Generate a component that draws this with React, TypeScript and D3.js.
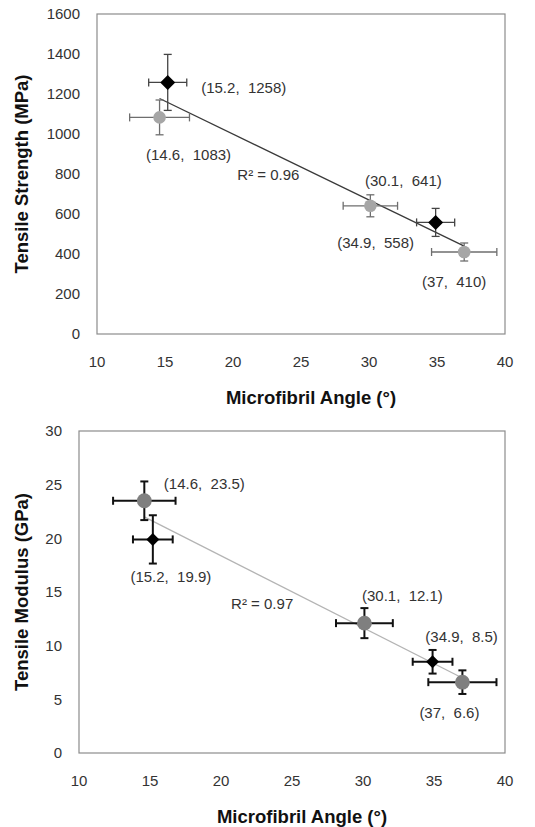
import React from 'react';
import * as d3 from 'd3';

// shared x values (microfibril angle, degrees)
const diamondAngle = [15.2, 34.9];
const diamondAngleErr = [1.4, 1.4];
const circleAngle = [14.6, 30.1, 37];
const circleAngleErr = [2.2, 2.0, 2.4];

// tensile strength (MPa)
const strengthDiamond = [1258, 558];
const strengthDiamondErr = [140, 70];
const strengthCircle = [1083, 641, 410];
const strengthCircleErr = [87, 55, 45];

// tensile modulus (GPa)
const modulusDiamond = [19.9, 8.5];
const modulusDiamondErr = [2.25, 1.1];
const modulusCircle = [23.5, 12.1, 6.6];
const modulusCircleErr = [1.8, 1.4, 1.1];

const xTicks = [10, 15, 20, 25, 30, 35, 40];
const strengthTicks = [0, 200, 400, 600, 800, 1000, 1200, 1400, 1600];
const modulusTicks = [0, 5, 10, 15, 20, 25, 30];

const FONT = '"Liberation Sans", Arial, sans-serif';

type Pt = { x: number; y: number; ex: number; ey: number; kind: 'd' | 'c'; dx: number; dy: number; label: string };

function fit(pts: Pt[]) {
  const mx = d3.mean(pts, p => p.x)!;
  const my = d3.mean(pts, p => p.y)!;
  const sxy = d3.sum(pts, p => (p.x - mx) * (p.y - my));
  const sxx = d3.sum(pts, p => (p.x - mx) ** 2);
  const slope = sxy / sxx;
  return (x: number) => my + slope * (x - mx);
}

const Chart = ({ top, left, bottom, yMax, yTicks, yTitle, pts, r2, r2At, style }: any) => {
  const right = 505;
  const x = d3.scaleLinear().domain([10, 40]).range([left, right]);
  const y = d3.scaleLinear().domain([0, yMax]).range([bottom, top]);
  const f = fit(pts);
  const xs = d3.extent(pts, (p: Pt) => p.x) as [number, number];
  const cap = 4;
  return (
    <g fontFamily={FONT}>
      <rect x={left} y={top} width={right - left} height={bottom - top} fill="none" stroke="#8c8c8c" strokeWidth={1.2} />
      {yTicks.map((t: number) => (
        <text key={t} x={left - 17} y={y(t)} dy="0.35em" textAnchor="end" fontSize={15} fill="#333">{t}</text>
      ))}
      {xTicks.map(t => (
        <text key={t} x={x(t)} y={bottom + 28} dy="0.35em" textAnchor="middle" fontSize={15} fill="#333">{t}</text>
      ))}
      <text x={(left + right) / 2 + 10} y={bottom + 64} dy="0.35em" textAnchor="middle" fontSize={18.5} fontWeight="bold" fill="#111">Microfibril Angle (°)</text>
      <text transform={`translate(22,${(top + bottom) / 2}) rotate(-90)`} dy="0.35em" textAnchor="middle" fontSize={18.5} fontWeight="bold" fill="#111">{yTitle}</text>
      <line x1={x(xs[0])} y1={y(f(xs[0]))} x2={x(xs[1])} y2={y(f(xs[1]))} stroke={style.trend} strokeWidth={1.3} />
      {pts.map((p: Pt, i: number) => {
        const col = p.kind === 'd' ? style.dErr : style.cErr;
        const cx = x(p.x), cy = y(p.y);
        const x0 = x(p.x - p.ex), x1 = x(p.x + p.ex);
        const y0 = y(p.y - p.ey), y1 = y(p.y + p.ey);
        return (
          <g key={i} stroke={col} strokeWidth={style.errW}>
            <line x1={x0} y1={cy} x2={x1} y2={cy} />
            <line x1={x0} y1={cy - cap} x2={x0} y2={cy + cap} />
            <line x1={x1} y1={cy - cap} x2={x1} y2={cy + cap} />
            <line x1={cx} y1={y0} x2={cx} y2={y1} />
            <line x1={cx - cap} y1={y0} x2={cx + cap} y2={y0} />
            <line x1={cx - cap} y1={y1} x2={cx + cap} y2={y1} />
          </g>
        );
      })}
      {pts.map((p: Pt, i: number) => {
        const cx = x(p.x), cy = y(p.y);
        return p.kind === 'd' ? (
          <path key={i} d={`M${cx},${cy - style.dR}L${cx + style.dR},${cy}L${cx},${cy + style.dR}L${cx - style.dR},${cy}Z`} fill="#000" />
        ) : (
          <circle key={i} cx={cx} cy={cy} r={style.cR} fill={style.cFill} />
        );
      })}
      {pts.map((p: Pt, i: number) => (
        <text key={i} x={x(p.x) + p.dx} y={y(p.y) + p.dy} dy="0.35em" textAnchor="middle" fontSize={15} fill="#333" style={{ whiteSpace: 'pre' }}>{p.label}</text>
      ))}
      <text x={x(r2At[0])} y={y(r2At[1])} dy="0.35em" textAnchor="middle" fontSize={15} fill="#333">{r2}</text>
    </g>
  );
};

const fmt = (a: number, b: number) => `(${a},  ${b})`;

export default function App() {
  const sOff = [[76, 5], [-60, 20]];
  const cOffS = [[29, 37], [33, -25], [-10, 30]];
  const strengthPts: Pt[] = [
    ...diamondAngle.map((a, i) => ({ x: a, y: strengthDiamond[i], ex: diamondAngleErr[i], ey: strengthDiamondErr[i], kind: 'd' as const, dx: sOff[i][0], dy: sOff[i][1], label: fmt(a, strengthDiamond[i]) })),
    ...circleAngle.map((a, i) => ({ x: a, y: strengthCircle[i], ex: circleAngleErr[i], ey: strengthCircleErr[i], kind: 'c' as const, dx: cOffS[i][0], dy: cOffS[i][1], label: fmt(a, strengthCircle[i]) })),
  ];
  const mOffD = [[18, 37], [29, -25]];
  const mOffC = [[60, -17], [38, -27], [-13, 31]];
  const modulusPts: Pt[] = [
    ...diamondAngle.map((a, i) => ({ x: a, y: modulusDiamond[i], ex: diamondAngleErr[i], ey: modulusDiamondErr[i], kind: 'd' as const, dx: mOffD[i][0], dy: mOffD[i][1], label: fmt(a, modulusDiamond[i]) })),
    ...circleAngle.map((a, i) => ({ x: a, y: modulusCircle[i], ex: circleAngleErr[i], ey: modulusCircleErr[i], kind: 'c' as const, dx: mOffC[i][0], dy: mOffC[i][1], label: fmt(a, modulusCircle[i]) })),
  ];
  return (
    <svg width={535} height={827} style={{ position: 'absolute', left: 0, top: 0, background: '#fff' }}>
      <Chart top={14} left={97} bottom={334} yMax={1600} yTicks={strengthTicks} yTitle="Tensile Strength (MPa)"
        pts={strengthPts} r2="R² = 0.96" r2At={[22.6, 795]}
        style={{ trend: '#3a3a3a', dErr: '#444', cErr: '#6e6e6e', errW: 1.3, dR: 7.5, cR: 6.3, cFill: '#a6a6a6' }} />
      <Chart top={431} left={79} bottom={753} yMax={30} yTicks={modulusTicks} yTitle="Tensile Modulus (GPa)"
        pts={modulusPts} r2="R² = 0.97" r2At={[22.9, 13.95]}
        style={{ trend: '#b4b4b4', dErr: '#111', cErr: '#111', errW: 2, dR: 6.5, cR: 7.4, cFill: '#7f7f7f' }} />
    </svg>
  );
}
